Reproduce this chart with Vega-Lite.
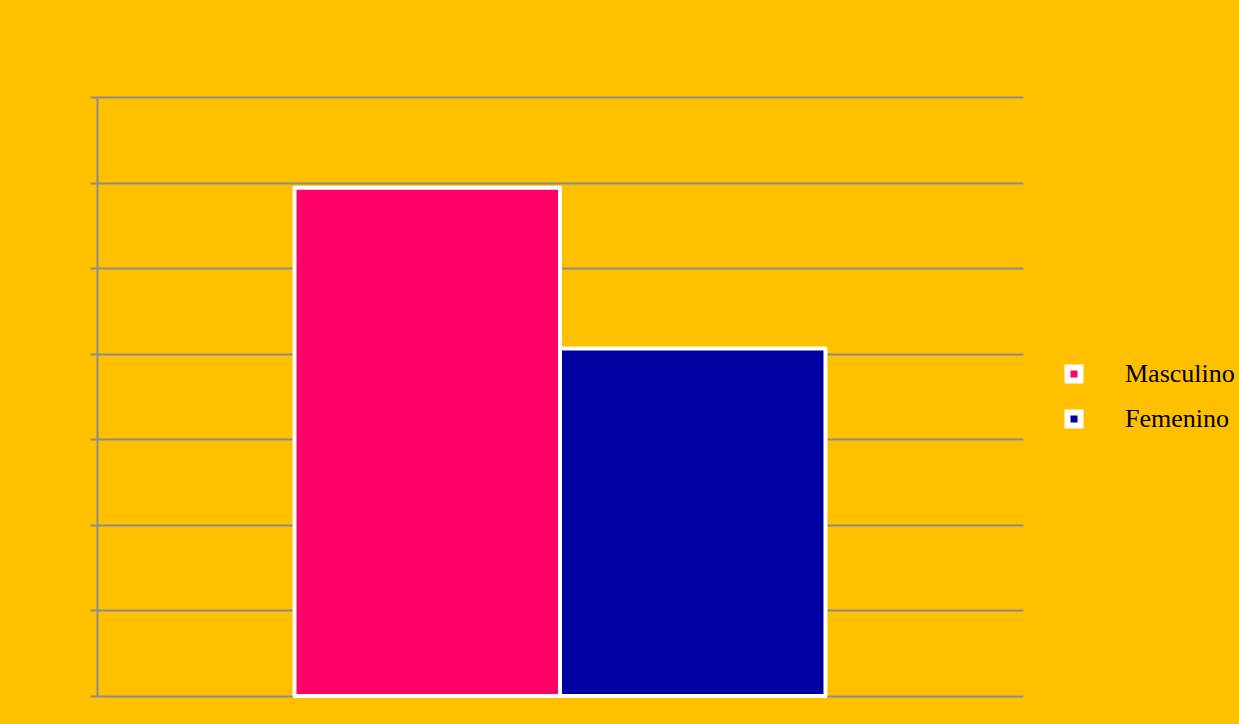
{
  "$schema": "https://vega.github.io/schema/vega-lite/v6.json",
  "autosize": {"type": "none"},
  "padding": {"left": 97, "top": 97, "right": 216, "bottom": 28},
  "width": 926,
  "height": 599,
  "background": "#FFC000",
  "config": {
    "view": {"stroke": null},
    "font": "Liberation Serif"
  },
  "data": {
    "values": [
      {"sexo": "Masculino", "valor": 59.4},
      {"sexo": "Femenino", "valor": 40.6}
    ]
  },
  "mark": {"type": "bar", "stroke": "white", "strokeWidth": 4, "strokeJoin": "round"},
  "encoding": {
    "x": {
      "field": "sexo",
      "type": "nominal",
      "sort": ["Masculino", "Femenino"],
      "scale": {"paddingInner": 0, "paddingOuter": 0.744},
      "axis": null
    },
    "y": {
      "field": "valor",
      "type": "quantitative",
      "scale": {"domain": [0, 70], "nice": false},
      "axis": {
        "values": [0, 10, 20, 30, 40, 50, 60, 70],
        "labels": false,
        "title": null,
        "grid": true,
        "gridColor": "#8c8c8c",
        "gridWidth": 2,
        "gridOpacity": 1,
        "domainColor": "#8c8c8c",
        "domainWidth": 2,
        "tickColor": "#8c8c8c",
        "tickWidth": 2,
        "tickSize": 7
      }
    },
    "color": {
      "field": "sexo",
      "type": "nominal",
      "sort": ["Masculino", "Femenino"],
      "scale": {"domain": ["Masculino", "Femenino"], "range": ["#FF0066", "#0000A0"]},
      "legend": {
        "orient": "none",
        "legendX": 964,
        "legendY": 264,
        "title": null,
        "symbolType": "square",
        "symbolSize": 169,
        "symbolStrokeColor": "white",
        "symbolStrokeWidth": 6,
        "symbolOpacity": 1,
        "labelFont": "Liberation Serif",
        "labelFontSize": 26,
        "labelColor": "black",
        "labelOffset": 38,
        "labelLimit": 400,
        "rowPadding": 7
      }
    }
  }
}
